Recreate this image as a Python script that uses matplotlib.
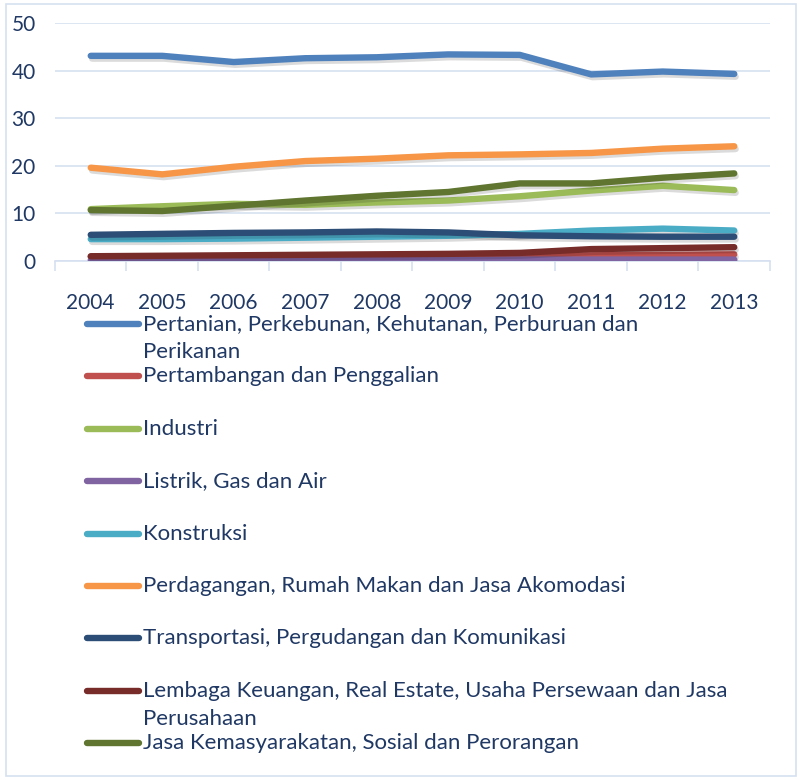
#!/usr/bin/env python3
"""Share of employment by sector, 2004-2013, as a line chart with a stacked legend."""

import matplotlib

matplotlib.use("Agg")
import matplotlib.pyplot as plt
import matplotlib.patheffects as pe
from matplotlib.lines import Line2D
from matplotlib.patches import Rectangle

years = [2004, 2005, 2006, 2007, 2008, 2009, 2010, 2011, 2012, 2013]

labels = [
    "Pertanian, Perkebunan, Kehutanan, Perburuan dan\nPerikanan",
    "Pertambangan dan Penggalian",
    "Industri",
    "Listrik, Gas dan Air",
    "Konstruksi",
    "Perdagangan, Rumah Makan dan Jasa Akomodasi",
    "Transportasi, Pergudangan dan Komunikasi",
    "Lembaga Keuangan, Real Estate, Usaha Persewaan dan Jasa\nPerusahaan",
    "Jasa Kemasyarakatan, Sosial dan Perorangan",
]

pertanian = [43.1, 43.1, 41.8, 42.6, 42.8, 43.4, 43.3, 39.2, 39.8, 39.3]
pertambangan = [0.9, 0.9, 0.9, 1.0, 1.0, 1.0, 1.1, 1.2, 1.3, 1.4]
industri = [10.9, 11.5, 12.0, 11.8, 12.3, 12.7, 13.6, 14.8, 15.8, 14.9]
listrik = [0.2, 0.2, 0.2, 0.2, 0.2, 0.2, 0.3, 0.3, 0.3, 0.3]
konstruksi = [4.6, 4.6, 4.7, 4.9, 5.1, 5.3, 5.7, 6.4, 6.8, 6.4]
perdagangan = [19.6, 18.2, 19.8, 21.0, 21.5, 22.2, 22.4, 22.7, 23.6, 24.1]
transportasi = [5.5, 5.7, 5.9, 6.0, 6.2, 6.0, 5.4, 5.2, 5.1, 5.1]
lembaga = [1.0, 1.1, 1.2, 1.3, 1.4, 1.5, 1.7, 2.5, 2.7, 2.9]
jasa = [10.7, 10.5, 11.6, 12.7, 13.7, 14.5, 16.3, 16.3, 17.5, 18.4]

series = [pertanian, pertambangan, industri, listrik, konstruksi,
          perdagangan, transportasi, lembaga, jasa]
colors = ["#4F81BD", "#C0504D", "#9BBB59", "#8064A2", "#4BACC6",
          "#F79646", "#2C4D75", "#772C2A", "#5F7530"]

TEXT = "#1F3864"
GRID = "#D6E0F0"
W, H = 802, 780

plt.rcParams["font.family"] = ["Lato", "DejaVu Sans"]

fig = plt.figure(figsize=(W / 100, H / 100), dpi=100)
fig.patches.append(Rectangle((6 / W, 4 / H), 790 / W, 772 / H, transform=fig.transFigure,
                             fill=False, edgecolor=GRID, linewidth=1.2))

ax = fig.add_axes([55 / W, 1 - 261 / H, 715 / W, 238 / H])
shadow = [pe.SimpleLineShadow(offset=(1, -2), shadow_color="k", alpha=0.14), pe.Normal()]
for values, color in zip(series, colors):
    ax.plot(years, values, color=color, linewidth=4.6, solid_capstyle="round",
            solid_joinstyle="round", path_effects=shadow, zorder=3)

ax.set_xlim(2003.5, 2013.5)
ax.set_ylim(0, 50)
ax.set_yticks(range(0, 51, 10))
ax.set_xticks(years)
ax.set_xticks([y - 0.5 for y in years] + [2013.5], minor=True)
ax.tick_params(axis="x", which="major", length=0, pad=23, labelsize=15, labelcolor=TEXT)
ax.tick_params(axis="x", which="minor", length=7, color=GRID, width=1.2)
ax.tick_params(axis="y", length=0, pad=14, labelsize=15, labelcolor=TEXT)
ax.grid(axis="y", color=GRID, linewidth=1.2, zorder=0)
for side in ("top", "right", "left"):
    ax.spines[side].set_visible(False)
ax.spines["bottom"].set_color(GRID)
ax.spines["bottom"].set_linewidth(1.2)
ax.set_axisbelow(True)

# hand-built legend, one row per series
row0, step = 324, 52.4
for i, (label, color) in enumerate(zip(labels, colors)):
    y = 1 - (row0 + i * step) / H
    fig.add_artist(Line2D([87 / W, 139 / W], [y, y], color=color, linewidth=4.6,
                          solid_capstyle="round", transform=fig.transFigure))
    for j, line in enumerate(label.split("\n")):
        fig.text(143 / W, y - j * 28 / H, line, fontsize=16, color=TEXT,
                 ha="left", va="center")

fig.savefig("out.png", dpi=100)
